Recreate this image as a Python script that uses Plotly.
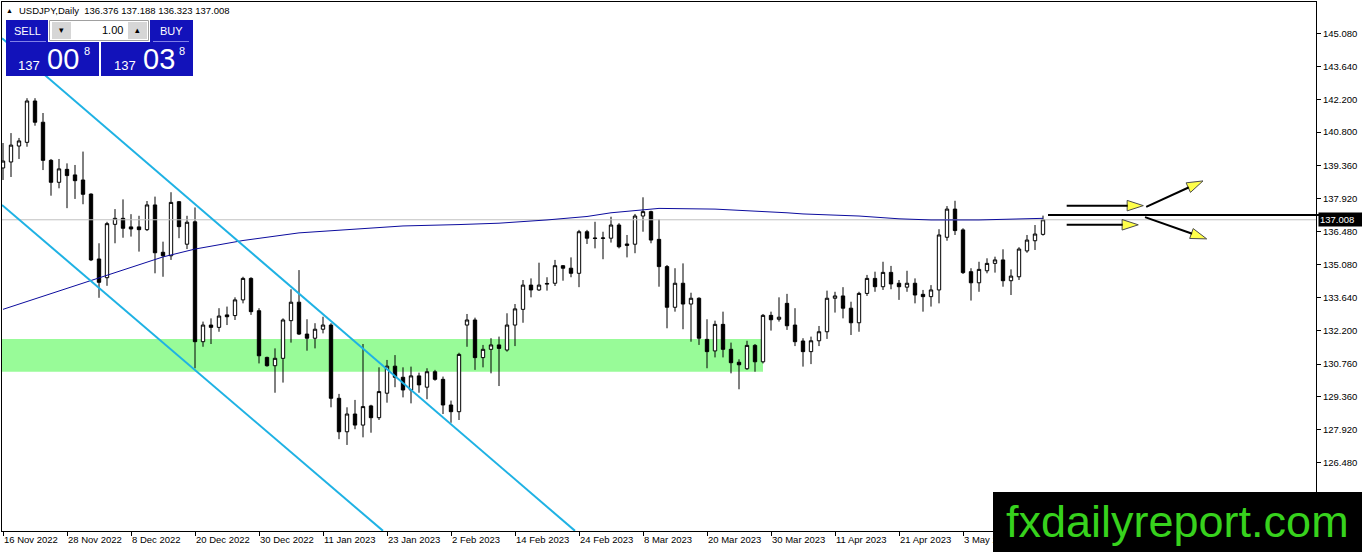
import plotly.graph_objects as go

# ---- data (USDJPY daily, bar index 0 = 16 Nov 2022) ----
opens = [
    139.25, 139.51, 140.20, 140.36, 142.15, 141.23, 139.58, 138.63, 139.19, 138.95,
    138.73, 138.12, 135.31, 134.50, 136.81, 137.07, 136.70, 136.70, 136.58, 137.65,
    135.60, 135.45, 137.79, 135.95, 136.92, 131.73, 132.45, 132.35, 132.89, 132.86,
    133.54, 134.47, 133.07, 131.05, 130.69, 131.01, 132.64, 133.44, 132.06, 131.88,
    132.27, 132.45, 129.28, 127.83, 128.60, 128.12, 128.95, 128.44, 129.50, 130.67,
    130.19, 129.64, 130.25, 129.76, 130.43, 130.10, 128.99, 128.70, 132.45, 132.67,
    131.04, 131.40, 131.59, 131.37, 132.45, 133.13, 134.18, 133.97, 134.22, 134.26,
    135.02, 134.91, 134.69, 136.49, 136.22, 136.20, 136.21, 136.78, 135.96, 135.95,
    137.17, 137.36, 136.16, 134.98, 133.22, 134.26, 133.36, 133.61, 131.83, 131.33,
    132.48, 131.40, 130.84, 130.56, 131.57, 130.86, 132.87, 132.70, 133.39, 132.45,
    131.76, 131.30, 131.77, 132.16, 133.61, 133.71, 133.18, 132.55, 133.82, 134.47,
    134.11, 134.73, 134.26, 134.09, 134.26, 133.78, 133.68, 133.97, 136.25, 137.47,
    136.57, 134.76, 134.28, 134.80, 135.12, 135.27, 134.37, 134.54, 135.66, 136.10,
    136.376,
]
highs = [
    140.33, 140.76, 140.55, 142.27, 142.27, 141.63, 139.64, 139.64, 139.45, 139.38,
    139.96, 138.15, 135.99, 136.92, 137.47, 137.89, 137.25, 137.18, 137.82, 138.01,
    136.06, 138.20, 137.82, 137.18, 137.54, 132.60, 132.74, 133.18, 133.25, 133.65,
    134.54, 134.52, 133.18, 131.08, 131.44, 132.74, 134.00, 134.83, 132.70, 132.53,
    132.81, 132.53, 129.47, 128.89, 129.21, 131.63, 129.00, 130.62, 130.94, 131.15,
    130.62, 130.65, 130.39, 130.58, 130.51, 130.22, 129.18, 131.25, 132.93, 132.77,
    131.59, 131.88, 131.95, 132.96, 133.36, 134.40, 134.47, 135.15, 134.52, 135.27,
    135.05, 135.38, 136.57, 136.57, 136.92, 136.49, 137.14, 136.86, 136.35, 137.26,
    137.98, 137.40, 137.03, 135.05, 134.91, 135.12, 133.85, 133.65, 132.70, 132.64,
    133.03, 131.69, 130.97, 131.77, 131.63, 132.93, 133.03, 133.65, 133.80, 133.18,
    131.88, 131.95, 132.41, 133.94, 133.89, 134.09, 133.46, 133.89, 134.62, 134.76,
    135.19, 135.01, 134.40, 134.80, 134.47, 133.97, 134.18, 136.60, 137.60, 137.83,
    136.64, 134.91, 135.19, 135.34, 135.41, 135.73, 134.86, 135.82, 136.35, 136.78,
    137.188,
]
lows = [
    138.73, 138.86, 139.64, 140.17, 141.08, 139.16, 138.05, 138.37, 137.51, 137.91,
    137.68, 135.22, 133.63, 134.15, 135.99, 136.23, 136.28, 135.63, 136.52, 134.69,
    134.54, 135.27, 136.21, 135.74, 130.58, 131.51, 131.63, 132.16, 132.45, 132.67,
    133.39, 132.89, 130.79, 130.65, 129.52, 129.96, 131.69, 132.02, 131.34, 131.44,
    132.09, 128.89, 127.51, 127.26, 127.94, 127.59, 127.79, 128.34, 129.09, 129.76,
    129.32, 129.06, 129.52, 129.24, 130.04, 128.60, 128.22, 128.34, 131.51, 130.51,
    130.62, 130.36, 129.81, 131.30, 131.54, 132.55, 133.65, 133.93, 133.94, 134.14,
    134.37, 134.52, 134.09, 135.96, 135.77, 135.30, 136.02, 135.77, 135.38, 135.56,
    136.49, 135.99, 134.11, 132.31, 133.03, 132.27, 131.73, 131.59, 130.58, 131.05,
    131.05, 130.36, 129.67, 130.51, 130.43, 130.79, 132.21, 132.60, 132.24, 131.54,
    130.65, 130.76, 131.54, 131.85, 132.99, 132.74, 132.02, 132.16, 133.71, 133.89,
    133.97, 134.00, 133.54, 133.89, 133.39, 133.03, 133.25, 133.39, 136.10, 136.35,
    134.66, 133.51, 133.89, 134.69, 134.72, 134.11, 133.75, 134.40, 135.58, 135.70,
    136.323,
]
closes = [
    139.55, 140.24, 140.42, 142.15, 141.23, 139.58, 138.63, 139.21, 138.92, 138.70,
    138.11, 135.27, 134.30, 136.84, 137.07, 136.64, 136.61, 136.58, 137.65, 135.58,
    135.45, 137.76, 136.71, 136.90, 131.73, 132.45, 132.35, 132.84, 132.81, 133.54,
    134.47, 133.03, 131.12, 130.69, 131.01, 132.67, 133.44, 132.06, 131.88, 132.27,
    132.45, 129.28, 127.83, 128.60, 128.12, 128.92, 128.44, 129.57, 130.67, 130.19,
    129.64, 130.25, 129.86, 130.43, 130.10, 128.99, 128.70, 131.18, 132.67, 131.04,
    131.40, 131.59, 131.44, 132.45, 133.15, 134.18, 133.97, 134.18, 134.25, 135.02,
    134.91, 134.69, 136.49, 136.21, 136.20, 136.22, 136.78, 135.84, 135.90, 137.17,
    137.36, 136.13, 134.98, 133.22, 134.26, 133.36, 133.61, 131.88, 131.30, 132.48,
    131.40, 130.82, 130.73, 131.57, 130.86, 132.87, 132.68, 132.79, 132.42, 131.73,
    131.30, 131.77, 132.16, 133.61, 133.71, 133.18, 132.55, 133.82, 134.47, 134.11,
    134.73, 134.23, 134.11, 134.26, 133.75, 133.68, 133.97, 136.35, 137.47, 136.54,
    134.72, 134.28, 134.86, 135.12, 135.27, 134.37, 134.57, 135.74, 136.13, 136.39,
    137.008,
]

# moving average, read at a few bars
ma_idx = [0, 12, 20, 24, 30, 37, 50, 57, 62, 68, 73, 76, 80, 82, 89, 93, 98, 100,
          107, 112, 116, 122, 126, 130]
ma_val = [133.13, 134.49, 135.40, 135.74, 136.11, 136.44, 136.74, 136.80, 136.86,
          137.00, 137.15, 137.31, 137.43, 137.50, 137.47, 137.41, 137.31, 137.26,
          137.17, 137.05, 137.00, 137.00, 137.03, 137.07]

# drawn objects (bar index, price)
channel_upper = ([-0.125, 71.5], [144.87, 123.54])
channel_lower = ([-0.125, 47.5], [137.65, 123.54])
zone_top, zone_bottom, zone_end = 131.85, 130.43, 95
arrows = [
    ([132.96, 142.54], [137.62, 137.62]),
    ([132.96, 141.91], [136.79, 136.79]),
    ([142.90, 150.00], [137.57, 138.69]),
    ([142.75, 150.46], [137.12, 136.18]),
]
level_line = 137.21

BID, ASK = closes[-1], 137.038
y_ticks = [145.08, 143.64, 142.20, 140.80, 139.36, 137.92, 136.48, 135.08,
           133.64, 132.20, 130.76, 129.36, 127.92, 126.48]
x_tick_idx = [0, 8, 16, 24, 32, 40, 48, 56, 64, 72, 80, 88, 96, 104, 112, 120]
x_tick_labels = ["16 Nov 2022", "28 Nov 2022", "8 Dec 2022", "20 Dec 2022",
                 "30 Dec 2022", "11 Jan 2023", "23 Jan 2023", "2 Feb 2023",
                 "14 Feb 2023", "24 Feb 2023", "8 Mar 2023", "20 Mar 2023",
                 "30 Mar 2023", "11 Apr 2023", "21 Apr 2023", "3 May 2023"]

# ---- layout geometry ----
W, H = 1362, 552
M_L, M_R, M_T, M_B = 2, 46, 2, 21
PLOT_W = W - M_L - M_R
PLOT_H = H - M_T - M_B
X_LO, X_HI = -0.125, 164.125
Y_LO, Y_HI = 123.535, 146.435

FONT = "Liberation Sans, Arial, sans-serif"
PANEL_BLUE = "#1212BA"


def px(x):
    return (x - M_L) / PLOT_W


def py(y):
    return 1 - (y - M_T) / PLOT_H


def pp(price):
    return (price - Y_LO) / (Y_HI - Y_LO)


idx = list(range(len(opens)))

fig = go.Figure()

# bid line
fig.add_trace(go.Scatter(x=[X_LO, X_HI], y=[BID, BID], mode="lines",
                         line=dict(color="#C0C0C0", width=1), hoverinfo="skip"))

fig.add_trace(go.Candlestick(
    x=idx, open=opens, high=highs, low=lows, close=closes,
    increasing=dict(line=dict(color="black", width=1), fillcolor="white"),
    decreasing=dict(line=dict(color="black", width=1), fillcolor="black"),
    whiskerwidth=0, hoverinfo="skip",
))

fig.add_trace(go.Scatter(x=ma_idx, y=ma_val, mode="lines",
                         line=dict(color="#0C0C9E", width=1), hoverinfo="skip"))

for xs, ys in (channel_upper, channel_lower):
    fig.add_trace(go.Scatter(x=xs, y=ys, mode="lines",
                             line=dict(color="#1FB2E4", width=2), hoverinfo="skip"))

for xs, ys in arrows:
    fig.add_trace(go.Scatter(
        x=xs, y=ys, mode="lines+markers",
        line=dict(color="black", width=2),
        marker=dict(symbol="arrow", size=[0, 17], angleref="previous",
                    color="#FFFF00", line=dict(color="black", width=1)),
        hoverinfo="skip",
    ))

shapes = [
    # support zone
    dict(type="rect", xref="x", yref="y", x0=X_LO, x1=zone_end,
         y0=zone_bottom, y1=zone_top, fillcolor="#98FB98", line_width=0,
         layer="below"),
    # drawn level line running into the price scale
    dict(type="line", xref="paper", yref="paper", x0=px(1048), x1=px(1362),
         y0=pp(level_line), y1=pp(level_line), line=dict(color="black", width=2),
         layer="above"),
]


def rect(x0, y0, x1, y1, fill, line=None):
    d = dict(type="rect", xref="paper", yref="paper", x0=px(x0), x1=px(x1),
             y0=py(y1), y1=py(y0), fillcolor=fill, layer="above")
    if line:
        d["line"] = dict(color=line, width=1)
    else:
        d["line_width"] = 0
    return d


# one-click trading panel
shapes += [
    rect(6, 42, 99, 76, PANEL_BLUE),
    rect(101, 42, 193, 76, PANEL_BLUE),
    rect(6, 20, 48, 42, PANEL_BLUE),
    rect(150, 20, 193, 42, PANEL_BLUE),
    rect(49.5, 20.5, 148.5, 40.5, "white", "#A0A0A0"),
    rect(52, 22, 71, 39, "#D6D6D6"),
    rect(128, 22, 147, 39, "#D6D6D6"),
    dict(type="line", xref="paper", yref="paper", x0=px(10), x1=px(46),
         y0=py(41.5), y1=py(41.5), line=dict(color="#8080E8", width=1), layer="above"),
    dict(type="line", xref="paper", yref="paper", x0=px(153), x1=px(189),
         y0=py(41.5), y1=py(41.5), line=dict(color="#8080E8", width=1), layer="above"),
    # watermark box
    rect(993, 492, 1362, 552, "black"),
]


def label(text, x, y, size, color="black", xanchor="center", yanchor="middle", **kw):
    return dict(text=text, xref="paper", yref="paper", x=px(x), y=py(y),
                xanchor=xanchor, yanchor=yanchor, showarrow=False,
                font=dict(family=FONT, size=size, color=color), **kw)


bid_s, ask_s = f"{BID:.3f}", f"{ASK:.3f}"
header = (f"USDJPY,Daily  {opens[-1]:.3f} {highs[-1]:.3f} "
          f"{lows[-1]:.3f} {closes[-1]:.3f}")

annotations = [
    label("▲", 9.5, 10.5, 7),
    label(header, 17, 10.5, 9.5, xanchor="left"),
    label("SELL", 27, 31, 11, "white"),
    label("BUY", 171.5, 31, 11, "white"),
    label("▾", 61.5, 30.5, 9),
    label("▴", 137.5, 30.5, 9),
    label("1.00", 125, 30.5, 11, xanchor="right"),
    label(bid_s[:3], 42, 65.5, 13, "white", xanchor="right"),
    label(bid_s[4:6], 45, 58.5, 29, "white", xanchor="left"),
    label(bid_s[6], 81.5, 51, 11, "white", xanchor="left"),
    label(ask_s[:3], 138, 65.5, 13, "white", xanchor="right"),
    label(ask_s[4:6], 140.5, 58.5, 29, "white", xanchor="left"),
    label(ask_s[6], 176.5, 51, 11, "white", xanchor="left"),
    label("fxdailyreport.com", 1177, 521, 45, "#37D21D"),
    dict(text=bid_s, xref="paper", yref="y", x=px(1318), y=BID,
         xanchor="left", yanchor="middle", showarrow=False, bgcolor="black",
         borderpad=1, width=42, align="left",
         font=dict(family=FONT, size=9.5, color="white")),
]

fig.update_layout(
    width=W, height=H,
    margin=dict(l=M_L, r=M_R, t=M_T, b=M_B),
    paper_bgcolor="white", plot_bgcolor="white",
    showlegend=False, boxgap=0.4,
    shapes=shapes, annotations=annotations,
    font=dict(family=FONT, size=9.5, color="black"),
    xaxis=dict(range=[X_LO, X_HI], rangeslider=dict(visible=False),
               tickvals=x_tick_idx, ticktext=x_tick_labels,
               ticks="outside", ticklen=4, tickcolor="black",
               ticklabelposition="outside right",
               showgrid=False, zeroline=False,
               showline=True, mirror=True, linecolor="black", linewidth=1),
    yaxis=dict(range=[Y_LO, Y_HI], side="right",
               tickvals=y_ticks, ticktext=[f"{v:.3f}" for v in y_ticks],
               ticks="outside", ticklen=4, tickcolor="black",
               showgrid=False, zeroline=False,
               showline=True, mirror=True, linecolor="black", linewidth=1),
)

# the page's default 8px body margin would shift the chart
fig.write_html("out.html", config={"displayModeBar": False},
               post_script="document.body.style.margin='0';")
